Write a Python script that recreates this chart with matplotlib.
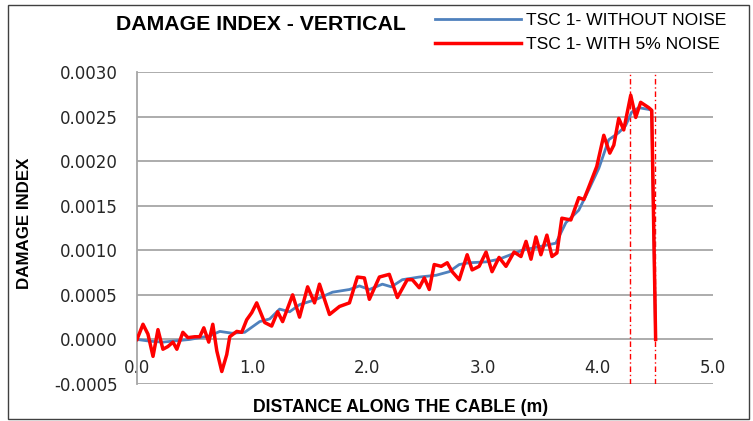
import numpy as np
import matplotlib.pyplot as plt
from matplotlib.ticker import FormatStrFormatter

# TSC 1 damage index along the cable, smooth (no noise) case
dist_clean = [0.000, 0.113, 0.225, 0.459, 0.632, 0.719, 0.823, 0.935, 1.065, 1.152,
              1.238, 1.325, 1.411, 1.558, 1.697, 1.844, 1.931, 2.017, 2.130, 2.208,
              2.303, 2.450, 2.597, 2.710, 2.797, 2.883, 3.030, 3.143, 3.342, 3.489,
              3.636, 3.723, 3.835, 3.922, 4.009, 4.095, 4.182, 4.242, 4.294, 4.355,
              4.442, 4.468, 4.502]
di_clean = [0.0, -0.00002, -0.00003, 0.0, 0.00004, 0.00009, 0.00007, 0.00008, 0.00020, 0.00023,
            0.00034, 0.00031, 0.00039, 0.00045, 0.00053, 0.00056, 0.00060, 0.00056, 0.00062, 0.00059,
            0.00067, 0.00070, 0.00072, 0.00076, 0.00084, 0.00086, 0.00087, 0.00090, 0.00100, 0.00104,
            0.00108, 0.00131, 0.00145, 0.00168, 0.00192, 0.00224, 0.00232, 0.00240, 0.00255, 0.00260,
            0.00258, 0.00257, 0.0]

# same section with 5% noise added
dist_noisy = [0.000, 0.052, 0.095, 0.139, 0.182, 0.225, 0.268, 0.312, 0.346, 0.398,
              0.442, 0.502, 0.545, 0.580, 0.623, 0.658, 0.693, 0.736, 0.779, 0.805,
              0.866, 0.909, 0.952, 0.996, 1.039, 1.108, 1.169, 1.221, 1.264, 1.351,
              1.411, 1.481, 1.541, 1.584, 1.671, 1.758, 1.844, 1.913, 1.974, 2.017,
              2.104, 2.190, 2.260, 2.346, 2.390, 2.450, 2.494, 2.537, 2.580, 2.641,
              2.693, 2.736, 2.797, 2.866, 2.909, 2.970, 3.030, 3.082, 3.143, 3.203,
              3.273, 3.333, 3.377, 3.420, 3.463, 3.506, 3.558, 3.602, 3.645, 3.688,
              3.766, 3.835, 3.879, 3.922, 3.991, 4.052, 4.104, 4.139, 4.182, 4.225,
              4.286, 4.329, 4.372, 4.442, 4.468, 4.502]
di_noisy = [0.0, 0.00017, 0.00006, -0.00019, 0.00011, -0.00011, -0.00008, -0.00003, -0.00011, 0.00008,
            0.00002, 0.00003, 0.00003, 0.00013, -0.00003, 0.00017, -0.00013, -0.00036, -0.00017, 0.00003,
            0.00009, 0.00008, 0.00022, 0.00030, 0.00041, 0.00019, 0.00015, 0.00031, 0.00020, 0.00050,
            0.00025, 0.00059, 0.00041, 0.00062, 0.00028, 0.00037, 0.00041, 0.00070, 0.00069, 0.00045,
            0.00070, 0.00073, 0.00047, 0.00067, 0.00067, 0.00058, 0.00069, 0.00056, 0.00084, 0.00082,
            0.00086, 0.00076, 0.00067, 0.00095, 0.00078, 0.00082, 0.00098, 0.00076, 0.00092, 0.00082,
            0.00098, 0.00093, 0.00110, 0.00090, 0.00115, 0.00095, 0.00117, 0.00093, 0.00097, 0.00136,
            0.00134, 0.00159, 0.00157, 0.00171, 0.00194, 0.00229, 0.00209, 0.00218, 0.00248, 0.00235,
            0.00274, 0.00249, 0.00266, 0.00260, 0.00257, 0.0]

damage_zone = [4.28, 4.50]

x_ticks = [0, 1, 2, 3, 4, 5]
y_ticks = [-0.0005, 0.0, 0.0005, 0.0010, 0.0015, 0.0020, 0.0025, 0.0030]

label_font = ['Liberation Sans Narrow', 'Liberation Sans', 'DejaVu Sans']
grid_grey = '#A6A6A6'

fig = plt.figure(figsize=(7.53, 4.21), dpi=100)
ax = fig.add_axes([137 / 753, 37 / 421, 576 / 753, 312 / 421])

ax.set_xlim(0, 5)
ax.set_ylim(-0.0005, 0.0030)
ax.set_xticks(x_ticks)
ax.set_yticks(y_ticks)
ax.xaxis.set_major_formatter(FormatStrFormatter('%.1f'))
ax.yaxis.set_major_formatter(FormatStrFormatter('%.4f'))
ax.tick_params(axis='both', length=0, labelsize=12, colors='#262626')
ax.tick_params(axis='y', pad=14)
ax.tick_params(axis='x', pad=14)

ax.grid(axis='y', color=grid_grey, lw=1.3)
ax.set_axisbelow(True)
for side in ['top', 'right']:
    ax.spines[side].set_visible(False)
ax.spines['left'].set_color(grid_grey)
ax.spines['left'].set_linewidth(1.3)
# x labels hang off the zero line, frame line stays at the bottom
ax.spines['bottom'].set_position(('data', 0))
ax.spines['bottom'].set_visible(False)

l_clean, = ax.plot(dist_clean, di_clean, color='#4F81BD', lw=2.0, zorder=3)
l_noisy, = ax.plot(dist_noisy, di_noisy, color='#FF0000', lw=2.5, zorder=4)

for xd in damage_zone:
    ax.axvline(xd, color='#FF0000', lw=1.0, dashes=(4, 2, 1, 2), zorder=2)

fig.text(261 / 753, 1 - 25 / 421, 'DAMAGE INDEX - VERTICAL', ha='center', va='center',
         fontsize=15.3, fontweight='bold', family=label_font)
fig.text(25 / 753, 1 - 223 / 421, 'DAMAGE INDEX', rotation=90, ha='center', va='center',
         fontsize=12.2, fontweight='bold', family=label_font)
fig.text(401 / 753, 1 - 407 / 421, 'DISTANCE ALONG THE CABLE (m)', ha='center', va='center',
         fontsize=12.7, fontweight='bold', family=label_font)

fig.legend([l_clean, l_noisy], ['TSC 1- WITHOUT NOISE', 'TSC 1- WITH 5% NOISE'],
           loc='upper left', bbox_to_anchor=(428 / 753, 1 - 6 / 421), frameon=False,
           prop={'family': label_font, 'size': 12.6}, handlelength=4.9,
           handletextpad=0.3, labelspacing=0.5, borderaxespad=0)

# outer frame of the chart
fig.add_artist(plt.Rectangle((8 / 753, 2 / 421), 741 / 753, 414 / 421, fill=False,
                             edgecolor='#404040', lw=1.0, transform=fig.transFigure))

fig.savefig('out.png', dpi=100)
